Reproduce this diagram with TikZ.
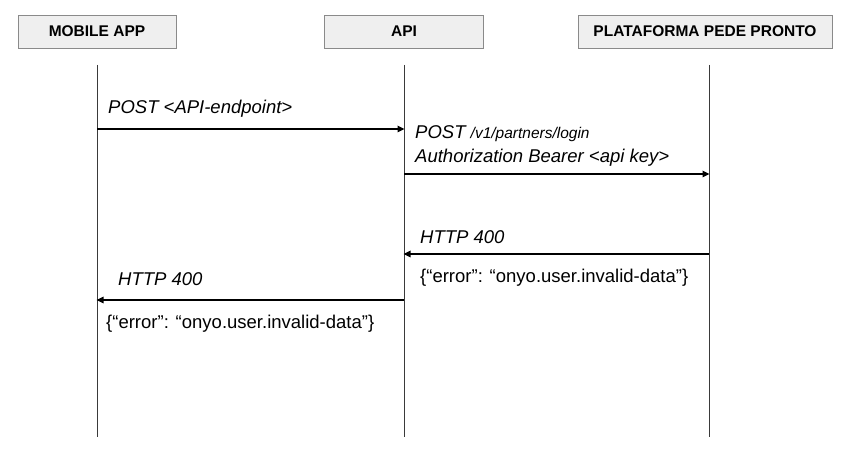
\documentclass[tikz,border=0pt]{standalone}
\usepackage{fontspec}
\setmainfont{Liberation Sans}
\usetikzlibrary{arrows.meta}
\definecolor{boxfill}{HTML}{EFEFEF}
\definecolor{boxline}{HTML}{8A8A8A}
\definecolor{lifeline}{HTML}{3A3A3A}
\begin{document}
\begin{tikzpicture}[x=1pt,y=-1pt,
  actor/.style={draw=boxline,line width=0.9pt,fill=boxfill,minimum height=33pt,inner sep=0pt,
    font=\fontsize{15.5}{18}\selectfont\bfseries},
  life/.style={draw=lifeline,line width=1pt},
  msg/.style={draw=black,line width=1.6pt,-{Triangle[length=7pt,width=6.5pt]}},
  lbl/.style={inner sep=0pt,anchor=base west,font=\fontsize{18.5}{22}\selectfont\itshape},
  body/.style={inner sep=0pt,anchor=base west,font=\fontsize{18.5}{22}\selectfont}
]
\useasboundingbox (0,0) rectangle (844,465);
\fill[white] (0,0) rectangle (844,465);

% actors
\node[actor,minimum width=158pt] (mob) at (97,31.5) {MOBILE APP};
\node[actor,minimum width=159pt] (api) at (404,31.5) {API};
\node[actor,minimum width=254pt] (ppp) at (705,31.5) {PLATAFORMA PEDE PRONTO};

% lifelines
\coordinate (mobT) at (97,65);  \coordinate (mobB) at (97,437);
\coordinate (apiT) at (404,65); \coordinate (apiB) at (404,437);
\coordinate (pppT) at (709,65); \coordinate (pppB) at (709,437);
\draw[life] (mobT) -- (mobB);
\draw[life] (apiT) -- (apiB);
\draw[life] (pppT) -- (pppB);

% message points
\coordinate (m1) at (97,129);  \coordinate (a1) at (404.5,129);
\coordinate (a2) at (404,174); \coordinate (p2) at (709.5,174);
\coordinate (p3) at (709,254); \coordinate (a3) at (403.5,254);
\coordinate (a4) at (404,300); \coordinate (m4) at (96.5,300);

\draw[msg] (m1) -- (a1);
\draw[msg] (a2) -- (p2);
\draw[msg] (p3) -- (a3);
\draw[msg] (a4) -- (m4);

% labels
\node[lbl] (t1) at (108,114) {POST <API-endpoint>};
\node[lbl] (t2) at (415,139) {POST {\fontsize{15.5}{18}\selectfont /v1/partners/login}};
\node[lbl] (t3) at (415,163) {Authorization Bearer <api key>};
\node[lbl] (t4) at (420,244) {HTTP 400};
\node[body] (t5) at (420,283) {\{“error”: “onyo.user.invalid-data”\}};
\node[lbl] (t6) at (118,286) {HTTP 400};
\node[body] (t7) at (106,329) {\{“error”: “onyo.user.invalid-data”\}};
\end{tikzpicture}
\end{document}
